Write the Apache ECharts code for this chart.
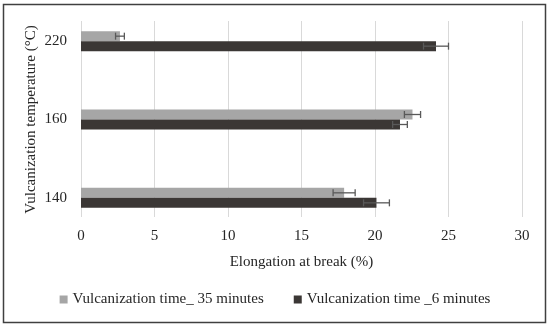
<!DOCTYPE html>
<html><head><meta charset="utf-8">
<script src="https://cdn.jsdelivr.net/npm/echarts@6/dist/echarts.min.js"></script>
<style>html,body{margin:0;padding:0;background:#fff}#c{width:550px;height:328px}</style>
</head><body><div id="c"></div>
<script>
const categories = ['140', '160', '220'];
const time35 = [17.9, 22.55, 2.65];
const time35Err = [0.75, 0.55, 0.3];
const time6 = [20.1, 21.7, 24.15];
const time6Err = [0.88, 0.5, 0.85];
const xTicks = [0, 5, 10, 15, 20, 25, 30];
const name35 = 'Vulcanization time_ 35 minutes';
const name6 = 'Vulcanization time _6 minutes';

const FONT = 'Liberation Serif';
const chart = echarts.init(document.getElementById('c'), null, {renderer: 'canvas'});

function errSeries(vals, errs, off) {
  return {
    type: 'custom', xAxisIndex: 0, yAxisIndex: 0, silent: true, z: 5,
    data: vals.map((v, i) => [v, i, errs[i]]),
    renderItem: function (params, api) {
      const v = api.value(0), i = api.value(1), e = api.value(2);
      const p1 = api.coord([v - e, i]);
      const p2 = api.coord([v + e, i]);
      const y = p1[1] + off;
      const st = {stroke: '#595959', lineWidth: 1.3};
      return {type: 'group', children: [
        {type: 'line', shape: {x1: p1[0], y1: y, x2: p2[0], y2: y}, style: st},
        {type: 'line', shape: {x1: p1[0], y1: y - 3.5, x2: p1[0], y2: y + 3.5}, style: st},
        {type: 'line', shape: {x1: p2[0], y1: y - 3.5, x2: p2[0], y2: y + 3.5}, style: st}
      ]};
    }
  };
}

chart.setOption({
  animation: false,
  backgroundColor: '#fff',
  textStyle: {fontFamily: FONT},
  grid: [
    {left: 81, right: 28, top: 2, height: 235},
    {left: 81, right: 28, top: 21, height: 196}
  ],
  xAxis: [
    {gridIndex: 0, type: 'value', min: 0, max: 30, show: false},
    {gridIndex: 1, type: 'value', min: 0, max: 30, interval: 5,
     axisLine: {show: false}, axisTick: {show: false},
     splitLine: {show: true, lineStyle: {color: '#d9d9d9', width: 1}},
     axisLabel: {margin: 12, fontFamily: FONT, fontSize: 15, color: '#262626',
       formatter: v => xTicks.includes(v) ? String(v) : ''},
     name: 'Elongation at break (%)', nameLocation: 'middle', nameGap: 38,
     nameTextStyle: {fontFamily: FONT, fontSize: 15, color: '#262626'}}
  ],
  yAxis: [
    {gridIndex: 0, type: 'category', data: categories,
     axisLine: {show: false}, axisTick: {show: false},
     axisLabel: {margin: 14, fontFamily: FONT, fontSize: 15, color: '#262626'},
     name: 'Vulcanization temperature (°C)', nameLocation: 'middle', nameGap: 42, nameRotate: 90,
     nameMoveOverlap: false,
     nameTextStyle: {fontFamily: FONT, fontSize: 15, color: '#262626'}},
    {gridIndex: 1, type: 'value', show: false}
  ],
  legend: {
    data: [name35, name6], bottom: 16, left: 'center', itemWidth: 8, itemHeight: 8, itemGap: 30,
    icon: 'rect', textStyle: {fontFamily: FONT, fontSize: 15, color: '#262626'}
  },
  series: [
    {name: name35, type: 'bar', xAxisIndex: 0, yAxisIndex: 0, data: time35, barWidth: 10, barGap: '0%',
     itemStyle: {color: '#a6a6a6'}},
    {name: name6, type: 'bar', xAxisIndex: 0, yAxisIndex: 0, data: time6, barWidth: 10, barGap: '0%',
     itemStyle: {color: '#3b3735'}},
    errSeries(time6, time6Err, 5),
    errSeries(time35, time35Err, -5)
  ],
  graphic: [{type: 'rect', shape: {x: 3.5, y: 4.5, width: 542, height: 318},
    style: {fill: 'none', stroke: '#404040', lineWidth: 1.5}, silent: true}]
});
</script></body></html>
